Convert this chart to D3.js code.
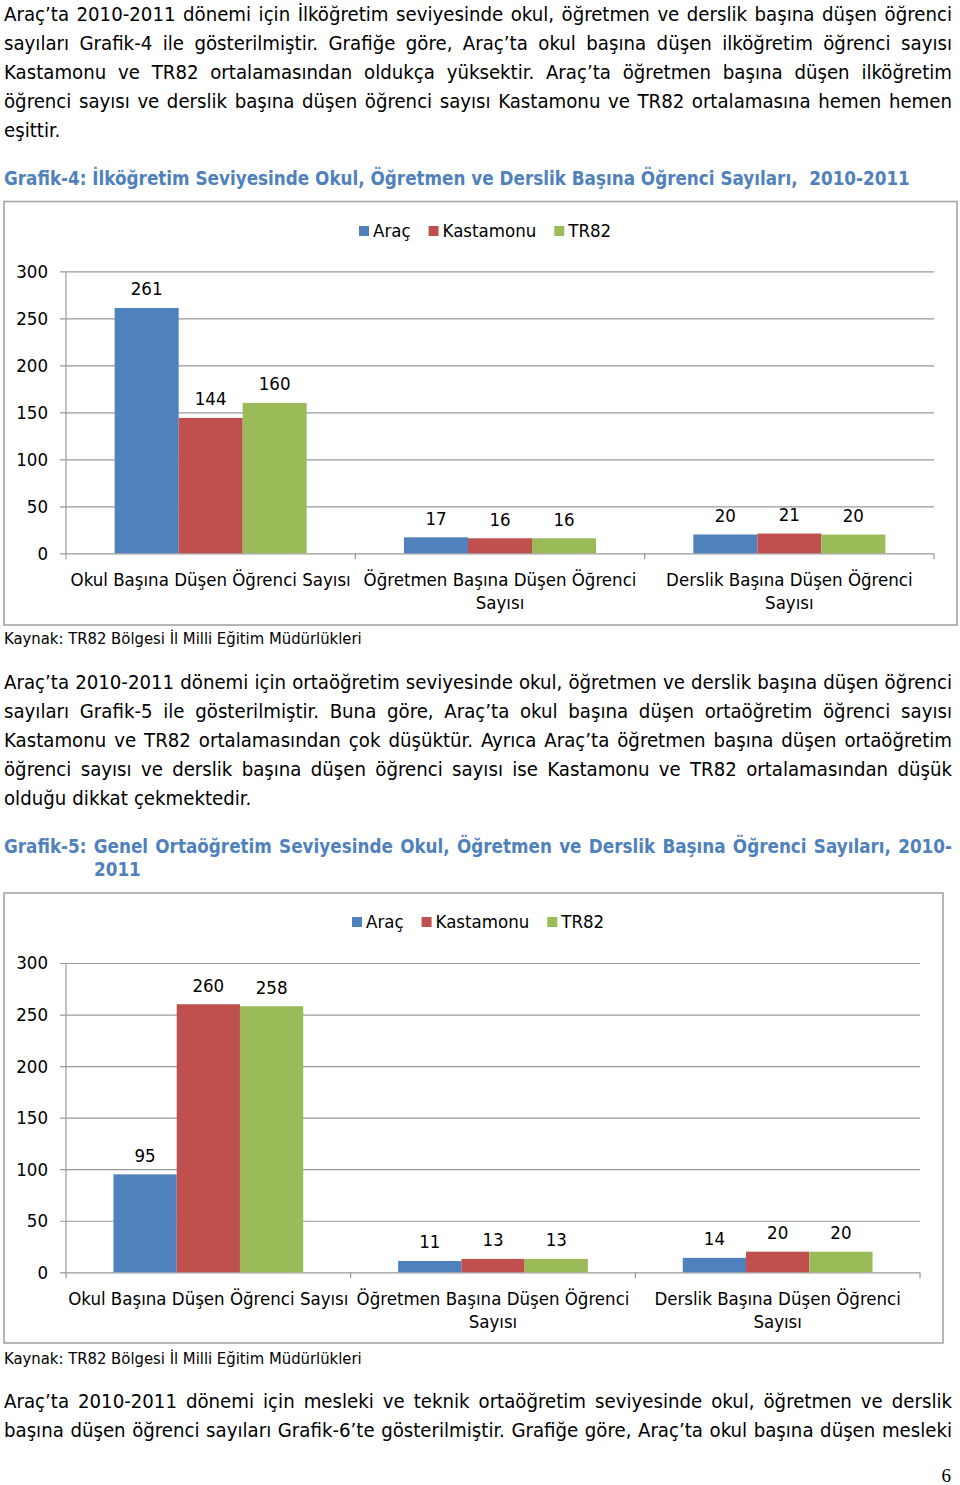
<!DOCTYPE html>
<html><head><meta charset="utf-8">
<script src="https://cdn.jsdelivr.net/npm/d3@7"></script>
<style>
html,body{margin:0;padding:0;background:#fff;}
body{width:960px;height:1485px;position:relative;overflow:hidden;}
svg{position:absolute;left:0;top:0;}
</style></head>
<body>
<svg id="chart" width="960" height="1485"></svg>
<script>
// ---------- data ----------
const series = ["Araç", "Kastamonu", "TR82"];
const colors = ["#4F81BD", "#C0504D", "#9BBB59"];
const categories = ["Okul Başına Düşen Öğrenci Sayısı", "Öğretmen Başına Düşen Öğrenci Sayısı", "Derslik Başına Düşen Öğrenci Sayısı"];
const categoryLines = [["Okul Başına Düşen Öğrenci Sayısı"], ["Öğretmen Başına Düşen Öğrenci", "Sayısı"], ["Derslik Başına Düşen Öğrenci", "Sayısı"]];
const yTicks = [0, 50, 100, 150, 200, 250, 300];

const grafik4Arac = [261, 17, 20];
const grafik4Kastamonu = [144, 16, 21];
const grafik4TR82 = [160, 16, 20];

const grafik5Arac = [95, 11, 14];
const grafik5Kastamonu = [260, 13, 20];
const grafik5TR82 = [258, 13, 20];

const title4 = "Grafik-4: İlköğretim Seviyesinde Okul, Öğretmen ve Derslik Başına Öğrenci Sayıları,\u00a0 2010-2011";
const title5a = "Grafik-5: Genel Ortaöğretim Seviyesinde Okul, Öğretmen ve Derslik Başına Öğrenci Sayıları, 2010-";
const title5b = "2011";
const source = "Kaynak: TR82 Bölgesi İl Milli Eğitim Müdürlükleri";

const para1 = [
 "Araç’ta 2010-2011 dönemi için İlköğretim seviyesinde okul, öğretmen ve derslik başına düşen öğrenci",
 "sayıları Grafik-4 ile gösterilmiştir. Grafiğe göre, Araç’ta okul başına düşen ilköğretim öğrenci sayısı",
 "Kastamonu ve TR82 ortalamasından oldukça yüksektir. Araç’ta öğretmen başına düşen ilköğretim",
 "öğrenci sayısı ve derslik başına düşen öğrenci sayısı Kastamonu ve TR82 ortalamasına hemen hemen",
 "eşittir."];
const para2 = [
 "Araç’ta 2010-2011 dönemi için ortaöğretim seviyesinde okul, öğretmen ve derslik başına düşen öğrenci",
 "sayıları Grafik-5 ile gösterilmiştir. Buna göre, Araç’ta okul başına düşen ortaöğretim öğrenci sayısı",
 "Kastamonu ve TR82 ortalamasından çok düşüktür. Ayrıca Araç’ta öğretmen başına düşen ortaöğretim",
 "öğrenci sayısı ve derslik başına düşen öğrenci sayısı ise Kastamonu ve TR82 ortalamasından düşük",
 "olduğu dikkat çekmektedir."];
const para3 = [
 "Araç’ta 2010-2011 dönemi için mesleki ve teknik ortaöğretim seviyesinde okul, öğretmen ve derslik",
 "başına düşen öğrenci sayıları Grafik-6’te gösterilmiştir. Grafiğe göre, Araç’ta okul başına düşen mesleki"];
const pageNumber = "6";

const svg = d3.select("#chart");
const FONT = "'DejaVu Sans Condensed','DejaVu Sans',sans-serif";

function styleText(sel, size, weight, fill) {
  return sel.attr("font-family", FONT).attr("font-stretch", "condensed")
    .attr("font-size", size).attr("font-weight", weight || "normal").attr("fill", fill || "#000");
}

// justified line: words placed so that the line spans [x0, x1]
function justifiedLine(text, x0, x1, yc, size, weight, fill, justify) {
  const words = text.split(" ");
  const g = svg.append("g");
  const nodes = words.map(w => styleText(g.append("text"), size, weight, fill)
    .attr("y", yc).attr("dy", "0.35em").text(w));
  const widths = nodes.map(n => n.node().getComputedTextLength());
  const total = d3.sum(widths);
  let gap;
  const space = size * 0.3;
  if (justify && words.length > 1) gap = (x1 - x0 - total) / (words.length - 1);
  else gap = space;
  let x = x0;
  nodes.forEach((n, i) => { n.attr("x", x); x += widths[i] + gap; });
}

function paragraph(lines, firstCenter, lastJustified) {
  lines.forEach((t, i) => {
    const justified = i < lines.length - 1 || lastJustified;
    justifiedLine(t, 4, 952, firstCenter + i * 29, 20.2, "normal", "#000", justified);
  });
}
paragraph(para1, 14, false);
paragraph(para2, 682, false);
paragraph(para3, 1401, true);

// titles
styleText(svg.append("text"), 18.7, "bold", "#4F81BD").attr("x", 4).attr("y", 178).attr("dy", "0.35em").text(title4);
justifiedLine(title5a, 4, 952, 846, 18.7, "bold", "#4F81BD", true);
styleText(svg.append("text"), 18.7, "bold", "#4F81BD").attr("x", 94).attr("y", 869).attr("dy", "0.35em").text(title5b);

// page number
svg.append("text").attr("x", 951).attr("y", 1475).attr("dy", "0.35em").attr("text-anchor", "end")
  .attr("font-family", "'Liberation Serif',serif").attr("font-size", 19).text(pageNumber);

// ---------- chart ----------
function drawChart(cfg, values) {
  const g = svg.append("g");
  const fs = 18.5;
  g.append("rect").attr("x", cfg.frame[0]).attr("y", cfg.frame[1])
    .attr("width", cfg.frame[2] - cfg.frame[0]).attr("height", cfg.frame[3] - cfg.frame[1])
    .attr("fill", "none").attr("stroke", "#a6a6a6").attr("stroke-width", 1.6);

  const y = d3.scaleLinear().domain([0, 300]).range([cfg.y0, cfg.y300]);
  const x0 = d3.scaleBand().domain(categories).range([cfg.xL, cfg.xR]).paddingInner(0).paddingOuter(0);
  const x1 = d3.scaleBand().domain(series).range([0, x0.bandwidth()]).paddingInner(0).paddingOuter(cfg.pad);

  // gridlines + y axis
  const yAxis = d3.axisLeft(y).tickValues(yTicks).tickSize(-(cfg.xR - cfg.xL)).tickPadding(18).tickFormat(d3.format("d"));
  const ya = g.append("g").attr("transform", `translate(${cfg.xL},0)`).call(yAxis);
  ya.select(".domain").remove();
  ya.selectAll(".tick line").attr("stroke", "#999").attr("stroke-width", 1.2).attr("x1", -6);
  styleText(ya.selectAll(".tick text"), fs);
  g.append("line").attr("x1", cfg.xL).attr("x2", cfg.xL).attr("y1", cfg.y300).attr("y2", cfg.y0)
    .attr("stroke", "#999").attr("stroke-width", 1.2);

  // x axis tick marks at category boundaries
  const bounds = categories.map(c => x0(c)).concat([cfg.xR]);
  g.selectAll(".xtick").data(bounds).enter().append("line")
    .attr("x1", d => d).attr("x2", d => d).attr("y1", cfg.y0).attr("y2", cfg.y0 + 6)
    .attr("stroke", "#999").attr("stroke-width", 1.2);

  // bars
  const groups = g.selectAll(".grp").data(categories).enter().append("g")
    .attr("transform", c => `translate(${x0(c)},0)`);
  groups.each(function (c, ci) {
    const gg = d3.select(this);
    series.forEach((s, si) => {
      const v = values[si][ci];
      gg.append("rect").attr("x", x1(s)).attr("width", x1.bandwidth())
        .attr("y", y(v)).attr("height", y(0) - y(v)).attr("fill", colors[si]);
      styleText(gg.append("text"), fs).attr("x", x1(s) + x1.bandwidth() / 2).attr("y", y(v) - 19).attr("dy", "0.35em")
        .attr("text-anchor", "middle").text(v);
    });
    categoryLines[ci].forEach((ln, li) => {
      styleText(gg.append("text"), fs).attr("x", x0.bandwidth() / 2).attr("y", cfg.y0 + 26 + li * 23).attr("dy", "0.35em")
        .attr("text-anchor", "middle").text(ln);
    });
  });

  // legend
  const lg = g.append("g");
  let lx = cfg.legendX;
  series.forEach((s, si) => {
    lg.append("rect").attr("x", lx).attr("y", cfg.legendY - 5).attr("width", 10).attr("height", 10).attr("fill", colors[si]);
    const t = styleText(lg.append("text"), fs).attr("x", lx + 14).attr("y", cfg.legendY).attr("dy", "0.35em").text(s);
    lx += 14 + t.node().getComputedTextLength() + 18;
  });

  // source
  styleText(g.append("text"), 16.5).attr("x", 4).attr("y", cfg.sourceY).attr("dy", "0.35em").text(source);
}

drawChart({frame: [4, 201.5, 957, 625], xL: 66, xR: 934, y0: 553.3, y300: 271.3, pad: 0.76,
           legendX: 359, legendY: 231, sourceY: 638},
          [grafik4Arac, grafik4Kastamonu, grafik4TR82]);
drawChart({frame: [4, 893, 943, 1343], xL: 66, xR: 920, y0: 1272.3, y300: 963, pad: 0.75,
           legendX: 352, legendY: 922, sourceY: 1358},
          [grafik5Arac, grafik5Kastamonu, grafik5TR82]);
</script>
</body></html>
